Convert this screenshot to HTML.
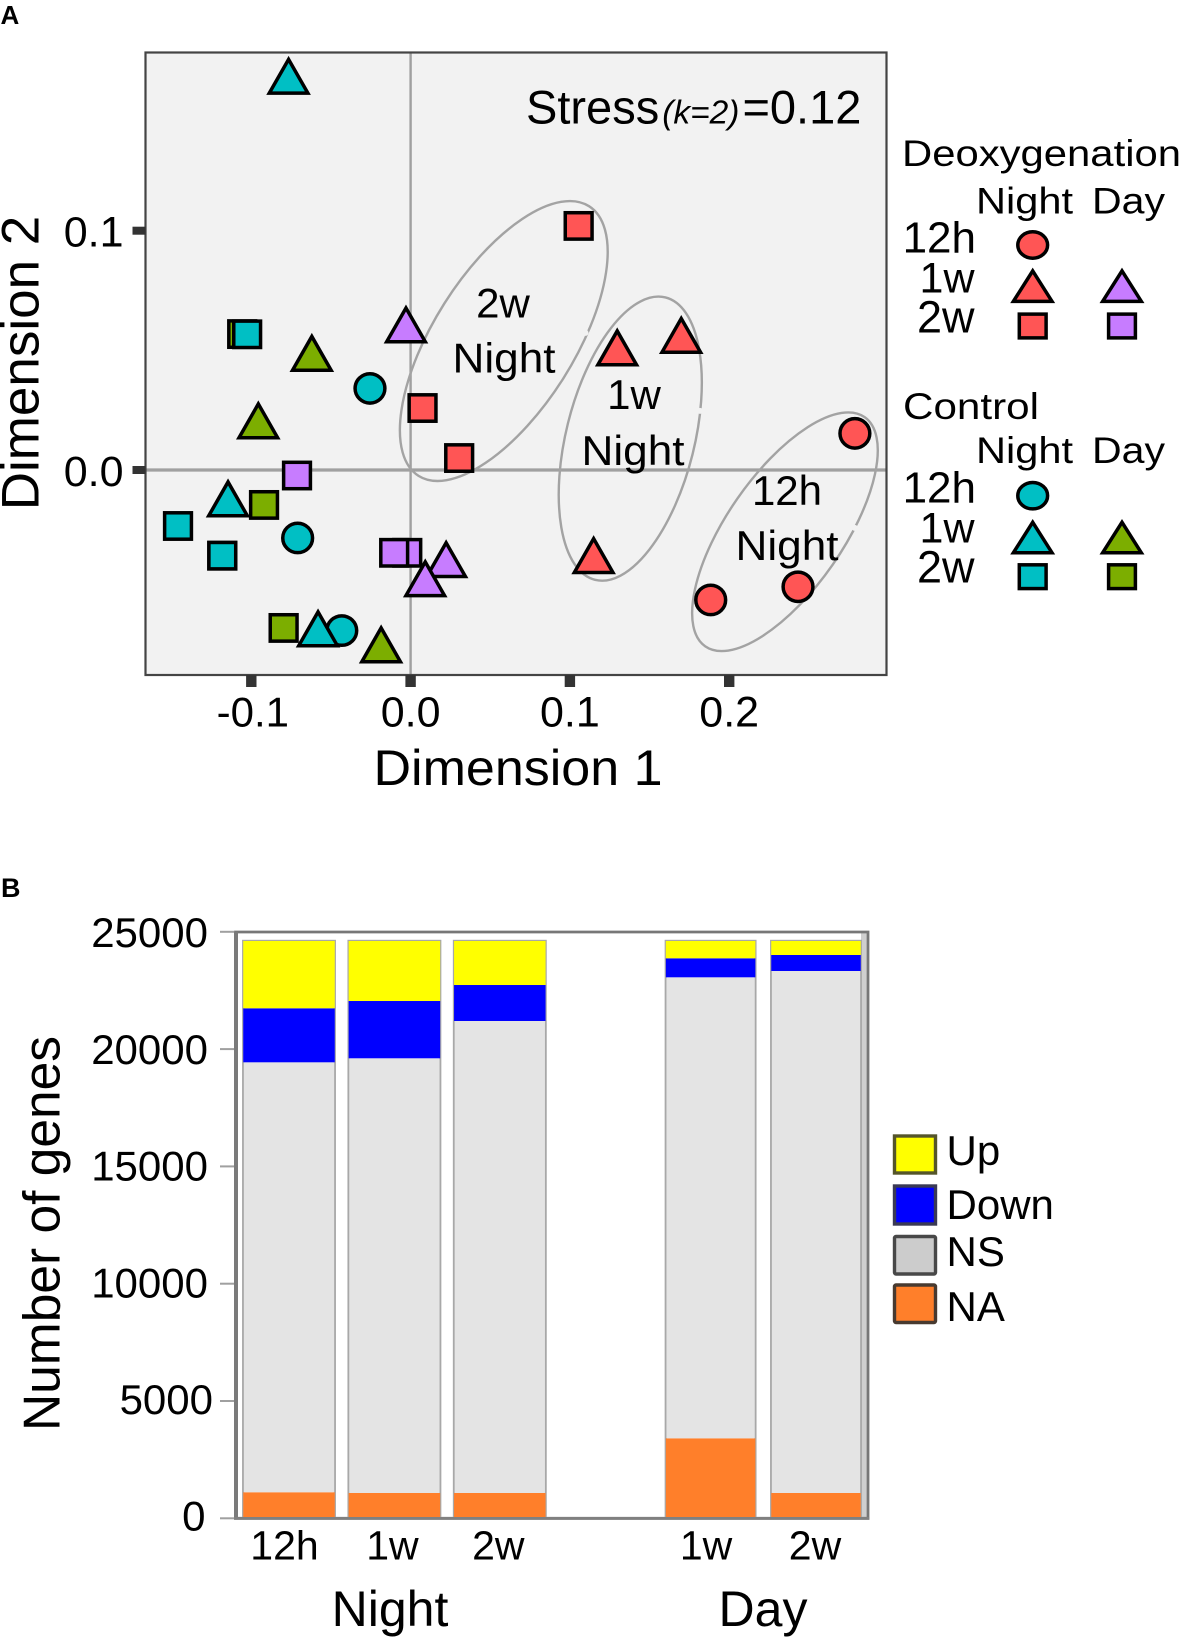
<!DOCTYPE html>
<html lang="en">
<head>
<meta charset="utf-8">
<title>Deoxygenation gene expression figure</title>
<style>
  html, body { margin: 0; padding: 0; background: #fff; }
  svg { display: block; filter: blur(0.35px); }
  text { font-family: "Liberation Sans", sans-serif; fill: #000; }
</style>
</head>
<body>
<svg id="figure" xmlns="http://www.w3.org/2000/svg" width="1181" height="1638" viewBox="0 0 1181 1638">
  <rect x="0" y="0" width="1181" height="1638" fill="#fff"/>

  <text x="0.5" y="24" font-size="26" font-weight="700">A</text>
  <text x="1" y="897" font-size="27" font-weight="700">B</text>

  <g id="panelA"></g>

  <text x="526" y="123.5" font-size="47">Stress<tspan font-size="33.5" font-style="italic" dx="3">(k=2)</tspan><tspan dx="3">=0.12</tspan></text>

  <text x="503" y="317.5" font-size="42" text-anchor="middle">2w</text>
  <text x="504" y="372.5" font-size="42" text-anchor="middle" textLength="103" lengthAdjust="spacingAndGlyphs">Night</text>
  <text x="634" y="409" font-size="42" text-anchor="middle">1w</text>
  <text x="633" y="465" font-size="42" text-anchor="middle" textLength="103" lengthAdjust="spacingAndGlyphs">Night</text>
  <text x="787" y="505" font-size="42" text-anchor="middle">12h</text>
  <text x="787" y="560" font-size="42" text-anchor="middle" textLength="103" lengthAdjust="spacingAndGlyphs">Night</text>

  <text transform="translate(38.5,363) rotate(-90)" font-size="53" text-anchor="middle">Dimension 2</text>
  <text x="518" y="785" font-size="50" text-anchor="middle" textLength="289" lengthAdjust="spacingAndGlyphs">Dimension 1</text>

  <text x="902" y="166" font-size="37" textLength="279" lengthAdjust="spacingAndGlyphs">Deoxygenation</text>
  <text x="976" y="213.5" font-size="37" textLength="97" lengthAdjust="spacingAndGlyphs">Night</text>
  <text x="1092" y="213.5" font-size="37" textLength="73" lengthAdjust="spacingAndGlyphs">Day</text>
  <text x="976" y="252.5" font-size="44" text-anchor="end">12h</text>
  <text x="974.5" y="292.5" font-size="43" text-anchor="end">1w</text>
  <text x="974.5" y="332.5" font-size="45" text-anchor="end">2w</text>

  <text x="903" y="419" font-size="37" textLength="136" lengthAdjust="spacingAndGlyphs">Control</text>
  <text x="976" y="463" font-size="37" textLength="97" lengthAdjust="spacingAndGlyphs">Night</text>
  <text x="1092" y="463" font-size="37" textLength="73" lengthAdjust="spacingAndGlyphs">Day</text>
  <text x="976" y="502.5" font-size="44" text-anchor="end">12h</text>
  <text x="974.5" y="542.5" font-size="43" text-anchor="end">1w</text>
  <text x="974.5" y="582.5" font-size="45" text-anchor="end">2w</text>

  <g id="panelALegend"></g>

  <g id="panelB"></g>

  <text transform="translate(59.5,1233.5) rotate(-90)" font-size="51.5" text-anchor="middle">Number of genes</text>
  <text x="390" y="1626" font-size="50" text-anchor="middle">Night</text>
  <text x="763" y="1626" font-size="50" text-anchor="middle">Day</text>

  <rect x="894.5" y="1136" width="41" height="37" fill="#ffff00" stroke="#55552a" stroke-width="3.4"/>
  <rect x="894.5" y="1186" width="41" height="38" fill="#0000ff" stroke="#3a3a55" stroke-width="3.4"/>
  <rect x="894.5" y="1236.5" width="41" height="37.5" rx="1.5" fill="#cccccc" stroke="#484848" stroke-width="3.4"/>
  <rect x="894.5" y="1285" width="41" height="37.5" rx="1.5" fill="#ff7f2a" stroke="#483a30" stroke-width="3.4"/>
  <text x="946.5" y="1165" font-size="42">Up</text>
  <text x="946.5" y="1219" font-size="42">Down</text>
  <text x="946.5" y="1266" font-size="42">NS</text>
  <text x="946.5" y="1321" font-size="42">NA</text>
</svg>

<script>
// ---------- Panel A data ----------
const xTickValues = [-0.1, 0.0, 0.1, 0.2];
const xTickLabels = ["-0.1", "0.0", "0.1", "0.2"];
const yTickValues = [0.0, 0.1];
const yTickLabels = ["0.0", "0.1"];

const pointTreatment = [
  "control-night", "control-day", "control-night", "control-night", "control-night",
  "control-day", "control-day", "control-night", "control-night",
  "control-night", "control-day", "control-night", "control-night", "control-night",
  "control-day", "control-day",
  "deox-night", "deox-night", "deox-night", "deox-night", "deox-night", "deox-night",
  "deox-night", "deox-night", "deox-night",
  "deox-day", "deox-day", "deox-day", "deox-day", "deox-day", "deox-day"
];
const pointDuration = [
  "2w", "2w", "2w", "2w", "2w",
  "2w", "2w", "12h", "12h",
  "12h", "1w", "1w", "1w", "1w",
  "1w", "1w",
  "12h", "12h", "12h", "1w", "1w", "1w",
  "2w", "2w", "2w",
  "2w", "2w", "2w", "1w", "1w", "1w"
];
const pointDim1 = [
  -0.1460, -0.1057, -0.1026, -0.1182, -0.1182,
  -0.0920, -0.0797, -0.0255, -0.0709,
  -0.0432, -0.0620, -0.0766, -0.1146, -0.0581,
  -0.0956, -0.0185,
  0.2789, 0.2432, 0.1884, 0.1149, 0.1297, 0.1699,
  0.1055, 0.0075, 0.0305,
  -0.0713, -0.0021, -0.0103, -0.0029, 0.0223, 0.0092
];
const pointDim2 = [
  -0.0234, 0.0568, 0.0567, -0.0358, -0.0358,
  -0.0146, -0.0660, 0.0341, -0.0284,
  -0.0671, 0.0491, 0.1649, -0.0117, -0.0660,
  0.0209, -0.0727,
  0.0153, -0.0488, -0.0543, -0.0354, 0.0514, 0.0566,
  0.1020, 0.0259, 0.0050,
  -0.0023, -0.0346, -0.0346, 0.0610, -0.0371, -0.0451
];

const ellipseNames = ["2w", "1w", "12h"];
const ellipseCenterDim1 = [0.0585, 0.1379, 0.2350];
const ellipseCenterDim2 = [0.0539, 0.0131, -0.0258];
const ellipseGapDim1 = [0.1098, 0.1817, 0.2788];
const ellipseGapDim2 = [0.0573, 0.0247, -0.0242];

// ---------- Panel B data ----------
const barCategories = ["12h", "1w", "2w", "1w", "2w"];
const barSlots = [0, 1, 2, 4, 5];
const barGroups = ["night", "night", "night", "day", "day"];
const valuesNA = [1110, 1080, 1080, 3410, 1080];
const valuesNS = [18327, 18528, 20118, 19650, 22249];
const valuesDown = [2302, 2442, 1534, 810, 682];
const valuesUp = [2869, 2558, 1876, 738, 597];
const geneTickValues = [0, 5000, 10000, 15000, 20000, 25000];
const geneTickLabels = ["0", "5000", "10000", "15000", "20000", "25000"];

// ---------- Helpers ----------
const SVGNS = "http://www.w3.org/2000/svg";
function mk(parent, tag, attrs, textContent) {
  const el = document.createElementNS(SVGNS, tag);
  for (const k in attrs) el.setAttribute(k, attrs[k]);
  if (textContent !== undefined) el.textContent = textContent;
  parent.appendChild(el);
  return el;
}

const treatmentFill = {
  "deox-night": "#ff5555",
  "deox-day": "#c77cff",
  "control-night": "#00bfc4",
  "control-day": "#7cae00"
};

function drawSymbol(parent, duration, fill, cx, cy, scaleY) {
  const sw = 3.5;
  if (duration === "12h") {
    return mk(parent, "ellipse", { cx: cx, cy: cy, rx: 14.9, ry: 14.7 * scaleY, fill: fill, stroke: "#000", "stroke-width": sw });
  }
  if (duration === "1w") {
    const w = 38.6, h = 33.8 * scaleY, outerH = 38.9 * scaleY;
    const top = cy - outerH / 2 + 3.4;
    const base = top + h;
    return mk(parent, "polygon", {
      points: (cx - w / 2) + "," + base + " " + cx + "," + top + " " + (cx + w / 2) + "," + base,
      fill: fill, stroke: "#000", "stroke-width": sw, "stroke-linejoin": "miter"
    });
  }
  const sizeW = 26.8, sizeH = 26.4 * scaleY;
  return mk(parent, "rect", { x: cx - sizeW / 2, y: cy - sizeH / 2, width: sizeW, height: sizeH, fill: fill, stroke: "#000", "stroke-width": sw });
}

// ---------- Panel A ----------
(function () {
  const g = document.getElementById("panelA");
  const plot = { left: 145.5, right: 886.5, top: 52.5, bottom: 675 };
  const xScale = v => 410.6 + 1593 * v;
  const yScale = v => 470 - 2393 * v;

  const bg = mk(g, "rect", { x: plot.left, y: plot.top, width: plot.right - plot.left, height: plot.bottom - plot.top, fill: "#f2f2f2" });
  
  

  const vLine = mk(g, "line", { x1: xScale(0), x2: xScale(0), y1: plot.top, y2: plot.bottom, stroke: "#a0a0a0", "stroke-width": 2.4 });
  
  

  const hLine = mk(g, "line", { x1: plot.left, x2: plot.right, y1: yScale(0), y2: yScale(0), stroke: "#a0a0a0", "stroke-width": 3.2 });
  
  

  const ellipseShape = {
    "2w": { rx: 159.5, ry: 70.3, angle: -57.7 },
    "1w": { rx: 145.5, ry: 64.2, angle: -76 },
    "12h": { rx: 139.6, ry: 58, angle: -55.2 }
  };
  ellipseNames.forEach((name, i) => {
    const s = ellipseShape[name];
    const cx = xScale(ellipseCenterDim1[i]), cy = yScale(ellipseCenterDim2[i]);
    const e = mk(g, "ellipse", {
      cx: cx, cy: cy, rx: s.rx, ry: s.ry,
      transform: "rotate(" + s.angle + " " + cx + " " + cy + ")",
      fill: "none", stroke: "#a3a3a3", "stroke-width": 2.4
    });
    
    
    const gap = mk(g, "circle", { cx: xScale(ellipseGapDim1[i]), cy: yScale(ellipseGapDim2[i]), r: 3, fill: "#f2f2f2" });
    
    
  });

  const frame = mk(g, "rect", { x: plot.left, y: plot.top, width: plot.right - plot.left, height: plot.bottom - plot.top, fill: "none", stroke: "#444", "stroke-width": 2.2 });
  
  

  xTickValues.forEach((v, i) => {
    const x = xScale(v);
    const t = mk(g, "rect", { x: x - 5.2, y: plot.bottom, width: 10.4, height: 12, fill: "#333" });
    
    
    const l = mk(g, "text", { x: x + (v < 0 ? 1.5 : 0), y: 726.5, "font-size": v < 0 ? 42 : 43, "text-anchor": "middle" }, xTickLabels[i]);
    
    
  });

  yTickValues.forEach((v, i) => {
    const y = yScale(v);
    const t = mk(g, "rect", { x: plot.left - 13, y: y - 4, width: 13, height: 8, fill: "#333" });
    
    
    const l = mk(g, "text", { x: 123.5, y: y + 16, "font-size": 43, "text-anchor": "end" }, yTickLabels[i]);
    
    
  });

  pointDim1.forEach((d1, i) => {
    const sym = drawSymbol(g, pointDuration[i], treatmentFill[pointTreatment[i]], xScale(d1), yScale(pointDim2[i]), 1);
    
    
  });
})();

// ---------- Panel A legend symbols ----------
(function () {
  const g = document.getElementById("panelALegend");
  const nightX = 1032.7, dayX = 1122;
  const rows = [
    ["deox-night", "12h", nightX, 245], ["deox-night", "1w", nightX, 285], ["deox-night", "2w", nightX, 326],
    ["deox-day", "1w", dayX, 285], ["deox-day", "2w", dayX, 326],
    ["control-night", "12h", nightX, 495.7], ["control-night", "1w", nightX, 536.4], ["control-night", "2w", nightX, 576.7],
    ["control-day", "1w", dayX, 536.4], ["control-day", "2w", dayX, 576.7]
  ];
  rows.forEach(r => {
    const s = drawSymbol(g, r[1], treatmentFill[r[0]], r[2], r[3], 0.9);
    
    
  });
})();

// ---------- Panel B ----------
(function () {
  const g = document.getElementById("panelB");
  const plot = { left: 235.5, right: 868, top: 932, bottom: 1518.3 };
  const yScale = v => plot.bottom - 0.02346 * v;
  const labelY = v => 1530.7 - 0.02334 * v;
  const xScale = s => 289 + 105.4 * s;
  const labelNudge = s => (s === 0 ? -4.5 : s === 1 ? -2 : s === 2 ? -1.5 : s === 4 ? -4.5 : -1);

  const stripe = mk(g, "rect", { x: 861, y: plot.top, width: 5.5, height: plot.bottom - plot.top, fill: "#cfcfcf" });
  
  

  const frame = mk(g, "path", {
    d: "M" + plot.left + " " + plot.bottom + "V" + plot.top + "H" + plot.right + "V" + plot.bottom + "Z",
    fill: "none", stroke: "#777", "stroke-width": 2.8
  });
  
  

  const leftEdge = mk(g, "rect", { x: 234, y: plot.top, width: 4, height: plot.bottom - plot.top, fill: "#7a7a7a" });
  
  

  geneTickValues.forEach((v, i) => {
    const y = yScale(v);
    const t = mk(g, "rect", { x: 220, y: y - 1, width: 14, height: 2, fill: "#a0a0a0" });
    
    
    const labelRight = v === 5000 ? 213 : v === 0 ? 205.5 : 208;
    const l = mk(g, "text", { x: labelRight, y: labelY(v), "font-size": 42, "text-anchor": "end" }, geneTickLabels[i]);
    
    
  });

  const segments = [
    ["na", valuesNA, "#ff7f2a"],
    ["ns", valuesNS, "#e4e4e4"],
    ["down", valuesDown, "#0000ff"],
    ["up", valuesUp, "#ffff00"]
  ];

  barCategories.forEach((cat, i) => {
    const cx = xScale(barSlots[i]);
    const barWidth = barGroups[i] === "night" ? 91.5 : 89.5;
    const x = cx - barWidth / 2;
    let total = 0;
    segments.forEach(s => { total += s[1][i]; });
    const outline = mk(g, "rect", { x: x, y: yScale(total), width: barWidth, height: yScale(0) - yScale(total), fill: "#fff", stroke: "#a8a8a8", "stroke-width": 2.4 });
    
    
    let cum = 0;
    segments.forEach(s => {
      const v = s[1][i];
      const r = mk(g, "rect", { x: x + (s[0] === "ns" ? 0.6 : 0), y: yScale(cum + v), width: barWidth - (s[0] === "ns" ? 1.2 : 0), height: yScale(cum) - yScale(cum + v), fill: s[2] });
      
      
      cum += v;
    });
    const l = mk(g, "text", { x: cx + labelNudge(barSlots[i]), y: 1559.5, "font-size": 41, "text-anchor": "middle" }, cat);
    
    
  });

  const baseLine = mk(g, "rect", { x: 234, y: plot.bottom - 1.3, width: plot.right - 234 + 1.3, height: 2.8, fill: "#808080" });
  
  
})();
</script>
</body>
</html>
